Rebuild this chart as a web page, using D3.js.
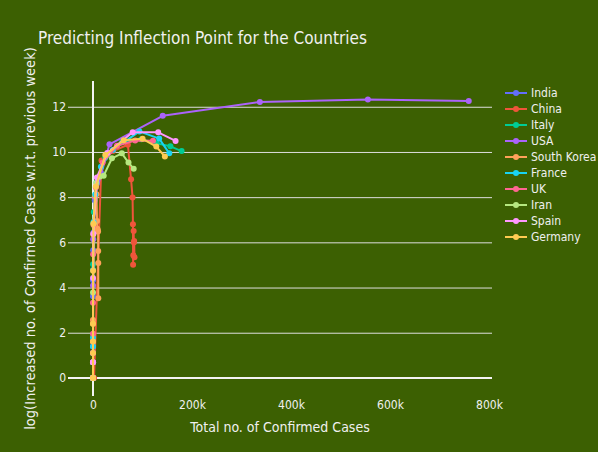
<!DOCTYPE html>
<html>
<head>
<meta charset="utf-8">
<script src="https://cdn.jsdelivr.net/npm/d3@7"></script>
<style>
  html, body { margin: 0; padding: 0; background: #3c6002; }
  svg { display: block; }
  text { font-family: "DejaVu Sans Condensed", "DejaVu Sans", Verdana, sans-serif; fill: #f0f0f0; }
</style>
</head>
<body>
<svg id="chart" width="598" height="452"></svg>
<script>
// ---------- data ----------
const countries = ["India", "China", "Italy", "USA", "South Korea", "France", "UK", "Iran", "Spain", "Germany"];
const colors = ["#636EFA", "#EF553B", "#00CC96", "#AB63FA", "#FFA15A", "#19D3F3", "#FF6692", "#B6E880", "#FF97FF", "#FECB52"];

const indiaX = [0, 2, 3, 3, 3, 3, 39, 113, 396, 1024, 3588, 9205, 17615];
const indiaY = [0, 1.10, 0.69, 0, 0, 0, 3.61, 4.32, 5.65, 6.44, 7.85, 8.63, 9.04];

const chinaX = [2116, 17187, 40150, 70446, 76936, 79932, 80699, 81003, 81397, 82122, 82602, 83134, 83805];
const chinaY = [0, 9.62, 10.04, 10.32, 8.79, 7.98, 6.80, 5.01, 5.43, 6.50, 5.99, 6.06, 5.34];

const italyX = [0, 2, 3, 3, 155, 1694, 7375, 24747, 59138, 97689, 128948, 156363, 178972];
const italyY = [0, 1.10, 0.69, 0, 5.03, 7.34, 8.65, 9.76, 10.45, 10.56, 10.38, 10.25, 10.04];

const usaX = [5, 8, 12, 13, 15, 74, 537, 3499, 33276, 140886, 337072, 555313, 759086];
const usaY = [0, 1.39, 1.61, 0.69, 1.10, 4.09, 6.14, 7.99, 10.34, 11.60, 12.21, 12.32, 12.26];

const koreaX = [3, 15, 25, 29, 602, 3736, 7134, 8162, 8897, 9583, 10237, 10512, 10674, 10683];
const koreaY = [0, 2.56, 2.40, 1.61, 6.35, 8.05, 8.13, 6.94, 6.60, 6.53, 6.48, 5.62, 5.09, 3.53];

const franceX = [3, 6, 11, 12, 12, 130, 1126, 4499, 16018, 40174, 93773, 133670, 154097];
const franceY = [0, 1.39, 1.79, 0.69, 0, 4.78, 6.90, 8.12, 9.35, 10.09, 10.91, 10.59, 9.94];

const ukX = [0, 2, 3, 9, 9, 36, 273, 1145, 5741, 19522, 48440, 85206, 121172];
const ukY = [0, 1.10, 0.69, 1.95, 0, 3.33, 5.47, 6.77, 8.43, 9.53, 10.27, 10.51, 10.50];

const iranX = [0, 0, 0, 0, 43, 978, 6566, 13938, 21638, 38309, 58226, 71686, 82211];
const iranY = [0, 0, 0, 0, 3.78, 6.84, 8.63, 8.91, 8.95, 9.72, 9.94, 9.53, 9.26];

const spainX = [0, 1, 2, 2, 2, 84, 673, 7798, 28768, 80110, 131646, 166831];
const spainY = [0, 0.69, 0.69, 0, 0, 4.42, 6.38, 8.87, 9.95, 10.87, 10.87, 10.49];

const germanyX = [0, 10, 14, 16, 16, 130, 1040, 5795, 24873, 62095, 100123, 127854, 145184];
const germanyY = [0, 2.40, 1.61, 1.10, 0, 4.74, 6.81, 8.47, 9.86, 10.52, 10.58, 10.24, 9.80];

const xTicks = [0, 200000, 400000, 600000, 800000];
const xTickLabels = ["0", "200k", "400k", "600k", "800k"];
const yTicks = [0, 2, 4, 6, 8, 10, 12];

const titleText = "Predicting Inflection Point for the Countries";
const xTitle = "Total no. of Confirmed Cases";
const yTitle = "log(Increased no. of Confirmed Cases w.r.t. previous week)";

// ---------- build ----------
const FONT = '"DejaVu Sans Condensed", "DejaVu Sans", Verdana, sans-serif';
const seriesX = [indiaX, chinaX, italyX, usaX, koreaX, franceX, ukX, iranX, spainX, germanyX];
const seriesY = [indiaY, chinaY, italyY, usaY, koreaY, franceY, ukY, iranY, spainY, germanyY];
const series = countries.map((name, i) => ({
  name, color: colors[i],
  points: seriesX[i].map((x, j) => ({x, y: seriesY[i][j]}))
}));

const W = 598, H = 452;
const plot = {left: 68, right: 492, top: 81, bottom: 396};

const svg = d3.select("#chart");
svg.append("rect").attr("width", W).attr("height", H).attr("fill", "#3c6002");

const x = d3.scaleLinear().domain([-50500, 806000]).range([plot.left, plot.right]);
const y = d3.scaleLinear().domain([-0.8, 13.14]).range([plot.bottom, plot.top]);

// y grid + labels
const yAxis = d3.axisLeft(y).tickValues(yTicks).tickSize(-(plot.right - plot.left)).tickPadding(2).tickFormat(d3.format("d"));
const gy = svg.append("g").attr("transform", `translate(${plot.left},0)`).call(yAxis);
gy.select(".domain").remove();
gy.selectAll(".tick line").attr("stroke", "#dedede").attr("stroke-width", 1);
gy.selectAll(".tick text").attr("font-size", 12).attr("fill", "#f0f0f0").attr("font-family", FONT);

// x labels (no grid)
const xAxis = d3.axisBottom(x).tickValues(xTicks).tickSize(0).tickPadding(4).tickFormat((d, i) => xTickLabels[i]);
const gx = svg.append("g").attr("transform", `translate(0,${plot.bottom})`).call(xAxis);
gx.select(".domain").remove();
gx.selectAll(".tick text").attr("font-size", 12).attr("fill", "#f0f0f0").attr("font-family", FONT);

// zero lines
svg.append("line").attr("x1", plot.left).attr("x2", plot.right).attr("y1", y(0)).attr("y2", y(0))
  .attr("stroke", "#f4f4f4").attr("stroke-width", 2);
svg.append("line").attr("x1", x(0)).attr("x2", x(0)).attr("y1", plot.top).attr("y2", plot.bottom)
  .attr("stroke", "#f4f4f4").attr("stroke-width", 2);

// series
const line = d3.line().x(d => x(d.x)).y(d => y(d.y));
const gs = svg.append("g");
series.forEach(s => {
  const g = gs.append("g");
  g.append("path").attr("d", line(s.points)).attr("fill", "none")
    .attr("stroke", s.color).attr("stroke-width", 2).attr("stroke-linejoin", "round");
  g.selectAll("circle").data(s.points).join("circle")
    .attr("cx", d => x(d.x)).attr("cy", d => y(d.y)).attr("r", 3).attr("fill", s.color);
});

// legend
const lg = svg.append("g").attr("transform", "translate(505,93)");
series.forEach((s, i) => {
  const row = lg.append("g").attr("transform", `translate(0,${i * 16})`);
  row.append("line").attr("x1", 0).attr("x2", 22).attr("stroke", s.color).attr("stroke-width", 2);
  row.append("circle").attr("cx", 11).attr("r", 3).attr("fill", s.color);
  row.append("text").attr("x", 26).attr("dy", "0.35em").attr("font-size", 12).text(s.name);
});

// titles
svg.append("text").attr("x", 38).attr("y", 44).attr("font-size", 17).text(titleText);
svg.append("text").attr("x", (plot.left + plot.right) / 2).attr("y", 432).attr("text-anchor", "middle")
  .attr("font-size", 14).text(xTitle);
svg.append("text").attr("transform", `translate(35,${(plot.top + plot.bottom) / 2}) rotate(-90)`)
  .attr("text-anchor", "middle").attr("font-size", 14.5).text(yTitle);
</script>
</body>
</html>
